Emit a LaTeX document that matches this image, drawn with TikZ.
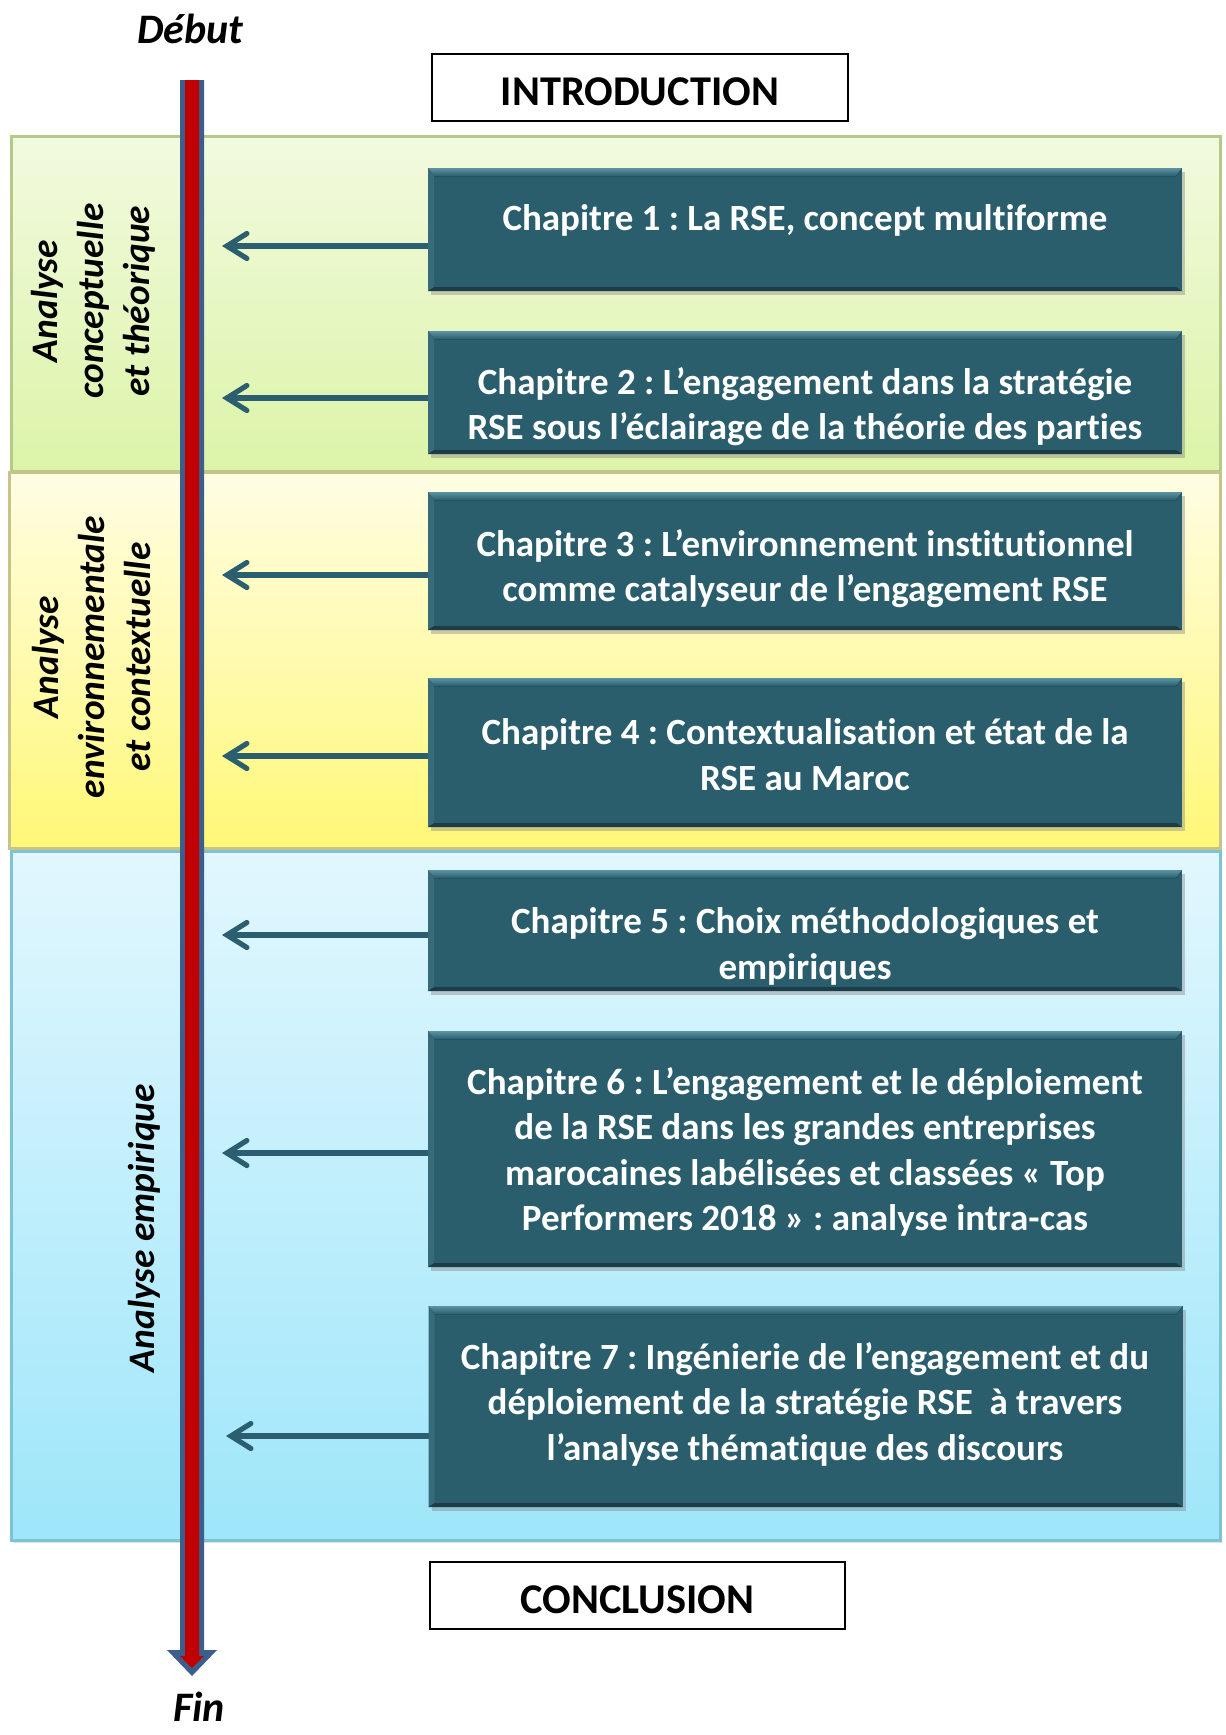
\documentclass[tikz,border=0pt]{standalone}
\usepackage{fontspec}
\setmainfont[Ligatures=NoCommon]{Carlito}
\usetikzlibrary{arrows.meta,shadows}
\frenchspacing

\definecolor{chapfill}{HTML}{2A5E6D}
\definecolor{chaptop}{HTML}{5C93A3}
\definecolor{linkcol}{HTML}{2B5F70}
\definecolor{axisblue}{HTML}{3B5E8C}
\definecolor{axisred}{HTML}{C00000}
\definecolor{greenA}{HTML}{F2FADF}
\definecolor{greenB}{HTML}{DCF4A8}
\definecolor{greenE}{HTML}{B4C98A}
\definecolor{yellowA}{HTML}{FFFDE4}
\definecolor{yellowB}{HTML}{FFF877}
\definecolor{yellowE}{HTML}{C9C38A}
\definecolor{blueA}{HTML}{E2F7FE}
\definecolor{blueB}{HTML}{9EE6FA}
\definecolor{blueE}{HTML}{7DC3D6}

\tikzset{
  band/.style={line width=1.5pt, drop shadow={shadow xshift=1pt, shadow yshift=-1.5pt, opacity=.25}},
  bandlabel/.style={rotate=90, align=center, font=\bfseries\itshape\fontsize{18.7}{23}\selectfont, text=black},
  chapbox/.style={fill=chapfill, inner sep=0pt, outer sep=0pt,
    drop shadow={shadow xshift=1.5pt, shadow yshift=-2pt, opacity=.4}},
  chaptext/.style={align=center, text=white, inner sep=0pt, font=\bfseries\fontsize{18.5}{22.75}\selectfont},
  framebox/.style={draw=black, line width=0.8pt, fill=white, inner sep=0pt},
  frametext/.style={inner sep=0pt, font=\bfseries\fontsize{21.2}{24}\selectfont},
  link/.style={draw=linkcol, line width=2.6pt, -{Straight Barb[length=10pt, width=12.5pt, line cap=round]}},
  endlabel/.style={inner sep=0pt, font=\bfseries\itshape\fontsize{21}{24}\selectfont},
}

\begin{document}
\begin{tikzpicture}[x=0.5pt, y=-0.5pt]
\useasboundingbox (0,0) rectangle (1226,1735);

% Three analysis bands
\path[band, draw=greenE, top color=greenA, bottom color=greenB] (11,136) rectangle (1220,471);
\path[band, draw=yellowE, top color=yellowA, bottom color=yellowB] (9,472) rectangle (1220,848);
\path[band, draw=blueE, top color=blueA, bottom color=blueB] (11,851) rectangle (1220,1540);

\node[bandlabel] (lab1) at (93,301) {Analyse\\conceptuelle\\et théorique};
\node[bandlabel] (lab2) at (92,657) {Analyse\\environnementale\\et contextuelle};
\node[bandlabel] (lab3) at (144,1228) {Analyse empirique};

% Introduction and conclusion frames
\node[framebox, minimum width=208pt, minimum height=33.5pt] (intro) at (640,87.5) {};
\node[frametext] (introtext) at (640,92) {INTRODUCTION};
\node[framebox, minimum width=207.5pt, minimum height=33.5pt] (concl) at (637.5,1595.5) {};
\node[frametext] (concltext) at (637.5,1600) {CONCLUSION};

% Chapter boxes (width 754px, heights vary)
\node[chapbox, minimum width=377pt, minimum height=61.5pt] (c1) at (805,229.5) {};
\node[chapbox, minimum width=377pt, minimum height=61.5pt] (c2) at (805,392.5) {};
\node[chapbox, minimum width=377pt, minimum height=69pt]   (c3) at (805,561) {};
\node[chapbox, minimum width=377pt, minimum height=74.5pt] (c4) at (805,752.5) {};
\node[chapbox, minimum width=377pt, minimum height=60.5pt] (c5) at (805,930.5) {};
\node[chapbox, minimum width=377pt, minimum height=118pt]  (c6) at (805,1149) {};
\node[chapbox, minimum width=377pt, minimum height=100.5pt] (c7) at (805.5,1406.5) {};

% Bevel highlight along the edges of each chapter box
\foreach \b in {c1,c2,c3,c4,c5,c6,c7}{
  \fill[top color=chaptop, bottom color=chapfill] (\b.north west) -- (\b.north east)
     -- ([xshift=-3pt,yshift=-4pt]\b.north east) -- ([xshift=3pt,yshift=-4pt]\b.north west) -- cycle;
  \fill[chapfill!75!chaptop] (\b.north west) -- ([xshift=3pt,yshift=-4pt]\b.north west)
     -- ([xshift=3pt,yshift=2pt]\b.south west) -- (\b.south west) -- cycle;
  \fill[black!35!chapfill] (\b.south west) -- ([xshift=3pt,yshift=2pt]\b.south west)
     -- ([xshift=-3pt,yshift=2pt]\b.south east) -- (\b.south east) -- cycle;
}

\node[chaptext] (t1) at (805,220.5) {Chapitre 1 : La RSE, concept multiforme};
\node[chaptext] (t2) at (805,406.5) {Chapitre 2 : L’engagement dans la stratégie\\RSE sous l’éclairage de la théorie des parties};
\node[chaptext] (t3) at (805,568.5) {Chapitre 3 : L’environnement institutionnel\\comme catalyseur de l’engagement RSE};
\node[chaptext] (t4) at (805,754.5) {Chapitre 4 : Contextualisation et état de la\\RSE au Maroc};
\node[chaptext] (t5) at (805,946.5) {Chapitre 5 : Choix méthodologiques et\\empiriques};
\node[chaptext] (t6) at (805,1152) {Chapitre 6 : L’engagement et le déploiement\\de la RSE dans les grandes entreprises\\marocaines labélisées et classées « Top\\Performers 2018 » : analyse intra-cas};
\node[chaptext] (t7) at (805,1404) {Chapitre 7 : Ingénierie de l’engagement et du\\déploiement de la stratégie RSE\ \ à travers\\l’analyse thématique des discours};

% Arrow tips near the time axis
\coordinate (a1) at (222,246);
\coordinate (a2) at (222,398);
\coordinate (a3) at (222,575);
\coordinate (a4) at (222,756);
\coordinate (a5) at (222,935);
\coordinate (a6) at (222,1153);
\coordinate (a7) at (226,1436);

\foreach \i in {1,...,7}{
  \draw[link] (c\i.west |- a\i) -- (a\i);
}

% Time axis: blue outline with red core
\fill[axisblue] (180,80) -- (204,80) -- (204,1650) -- (217,1650) -- (192,1676)
   -- (167,1650) -- (180,1650) -- cycle;
\fill[axisred] (185,80) -- (199,80) -- (199,1656) -- (204,1656) -- (192,1668)
   -- (180,1656) -- (185,1656) -- cycle;

\node[endlabel] (start) at (190,29) {Début};
\node[endlabel] (end) at (199,1707) {Fin};
\end{tikzpicture}
\end{document}
